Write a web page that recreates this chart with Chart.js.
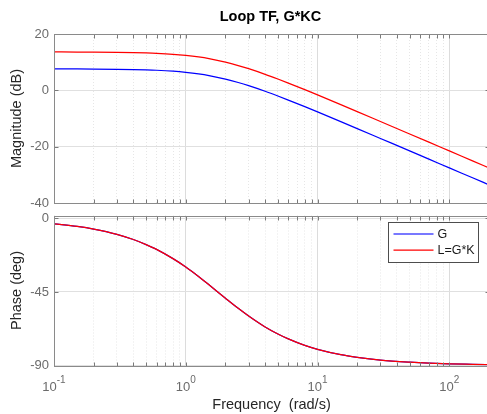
<!DOCTYPE html>
<html>
<head>
<meta charset="utf-8">
<script src="https://cdn.jsdelivr.net/npm/chart.js@4/dist/chart.umd.min.js"></script>
<style>
  html, body { margin: 0; padding: 0; background: #fff; overflow: hidden; width: 487px; height: 414px; }
  canvas { position: absolute; left: 0; }
  #mag { top: 0; }
  #phase { top: 205px; }
</style>
</head>
<body>
<canvas id="mag" width="492" height="212"></canvas>
<canvas id="phase" width="492" height="209"></canvas>
<script>
// frequencies (rad/s)
const freq = [0.1, 0.15, 0.2, 0.3, 0.4, 0.5, 0.6, 0.8, 1, 1.25, 1.5, 2, 2.5, 3, 4, 5, 6, 8, 10, 15, 20, 30, 50, 70, 100, 150, 200];
// magnitude (dB)
const magG = [7.6, 7.58, 7.55, 7.48, 7.39, 7.27, 7.13, 6.79, 6.38, 5.82, 5.22, 3.98, 2.78, 1.66, -0.33, -2.01, -3.45, -5.79, -7.66, -11.11, -13.58, -17.09, -21.51, -24.43, -27.53, -31.05, -33.55];
const magL = [13.62, 13.6, 13.57, 13.5, 13.41, 13.29, 13.15, 12.81, 12.4, 11.84, 11.24, 10.0, 8.8, 7.68, 5.69, 4.01, 2.57, 0.23, -1.64, -5.09, -7.56, -11.07, -15.49, -18.41, -21.51, -25.03, -27.53];
// phase (deg)
const phaseG = [-3.3, -4.9, -6.5, -9.7, -12.9, -16.0, -18.9, -24.6, -29.7, -35.5, -40.6, -48.8, -55.0, -59.7, -66.4, -70.7, -73.7, -77.7, -80.1, -83.4, -85.0, -86.7, -88.0, -88.6, -89.0, -89.3, -89.5];
const phaseL = [-3.3, -4.9, -6.5, -9.7, -12.9, -16.0, -18.9, -24.6, -29.7, -35.5, -40.6, -48.8, -55.0, -59.7, -66.4, -70.7, -73.7, -77.7, -80.1, -83.4, -85.0, -86.7, -88.0, -88.6, -89.0, -89.3, -89.5];

const magTicks = [-40, -20, 0, 20];
const phaseTicks = [-90, -45, 0];
const decades = [0.1, 1, 10, 100];
const decadeExp = ["-1", "0", "1", "2"];
const seriesNames = ["G", "L=G*K"];

const FONT = "'Liberation Sans', Arial, Helvetica, sans-serif";
const BLUE = "#0000ff";
const RED = "#ff0000";

// grid positions 1..9 x each decade
var gridFreqs = [];
decades.forEach(function (d) {
  for (var k = 1; k <= 9; k++) {
    if (k * d <= 200.0001) gridFreqs.push(k * d);
  }
});

function isDecade(v) {
  var l = Math.log10(v);
  return Math.abs(l - Math.round(l)) < 1e-9;
}

function pts(ys) {
  return freq.map(function (f, i) { return { x: f, y: ys[i] }; });
}

// order: higher gets drawn first (underneath)
function line(label, ys, color, order) {
  return {
    label: label,
    data: pts(ys),
    order: order,
    borderColor: color,
    backgroundColor: color,
    borderWidth: 1.25,
    pointRadius: 0,
    cubicInterpolationMode: "monotone",
    fill: false,
  };
}

const decor = {
  id: "decor",
  afterDraw: function (chart, args, opts) {
    var ctx = chart.ctx;
    var a = chart.chartArea;
    var xs = chart.scales.x, ys = chart.scales.y;
    var L = Math.round(a.left) + 0.5, R = Math.round(a.right) + 0.5;
    var T = Math.round(a.top) + 0.5, B = Math.round(a.bottom) + 0.5;
    ctx.save();

    // inward tick marks
    ctx.strokeStyle = "#7a7a7a";
    ctx.lineWidth = 1;
    ctx.beginPath();
    gridFreqs.forEach(function (v) {
      var px = Math.round(xs.getPixelForValue(v)) + 0.5;
      ctx.moveTo(px, B); ctx.lineTo(px, B - 4);
      ctx.moveTo(px, T); ctx.lineTo(px, T + 4);
    });
    opts.yTicks.forEach(function (v) {
      var py = Math.round(ys.getPixelForValue(v)) + 0.5;
      ctx.moveTo(L, py); ctx.lineTo(L + 4, py);
      ctx.moveTo(R, py); ctx.lineTo(R - 4, py);
    });
    ctx.stroke();

    // box
    ctx.strokeStyle = "#8a8a8a";
    ctx.strokeRect(L, T, R - L, B - T);

    // y axis label
    ctx.fillStyle = "#262626";
    ctx.font = "14.5px " + FONT;
    ctx.textAlign = "center";
    ctx.textBaseline = "middle";
    ctx.save();
    ctx.translate(17, (a.top + a.bottom) / 2);
    ctx.rotate(-Math.PI / 2);
    ctx.fillText(opts.ylabel, 0, 0);
    ctx.restore();

    if (opts.title) {
      ctx.fillStyle = "#000";
      ctx.font = "bold 14.5px " + FONT;
      ctx.fillText(opts.title, (a.left + a.right) / 2 - 1, 17);
    }

    if (opts.xlabels) {
      // 10^n tick labels
      ctx.fillStyle = "#6b6b6b";
      ctx.textAlign = "left";
      ctx.textBaseline = "alphabetic";
      decades.forEach(function (d, i) {
        ctx.font = "13px " + FONT;
        var w1 = ctx.measureText("10").width;
        ctx.font = "10px " + FONT;
        var w2 = ctx.measureText(decadeExp[i]).width;
        var x0 = xs.getPixelForValue(d) - (w1 + w2) / 2;
        ctx.font = "13px " + FONT;
        ctx.fillText("10", x0, a.bottom + 25.5);
        ctx.font = "10px " + FONT;
        ctx.fillText(decadeExp[i], x0 + w1, a.bottom + 17.5);
      });
      ctx.fillStyle = "#262626";
      ctx.font = "14.5px " + FONT;
      ctx.textAlign = "center";
      ctx.fillText("Frequency  (rad/s)", (a.left + a.right) / 2, a.bottom + 43);
    }

    if (opts.legend) {
      var bx = 388.5, by = 17.5, bw = 90, bh = 40;
      ctx.fillStyle = "#fff";
      ctx.fillRect(bx, by, bw, bh);
      ctx.strokeStyle = "#4d4d4d";
      ctx.strokeRect(bx, by, bw, bh);
      var rows = [
        { y: by + 11.5, color: "#7878ff", w: 2 },
        { y: by + 27.5, color: RED, w: 1.25 },
      ];
      ctx.font = "12.5px " + FONT;
      ctx.textAlign = "left";
      ctx.textBaseline = "middle";
      rows.forEach(function (r, i) {
        ctx.strokeStyle = r.color;
        ctx.lineWidth = r.w;
        ctx.beginPath();
        ctx.moveTo(bx + 5, r.y); ctx.lineTo(bx + 45, r.y);
        ctx.stroke();
        ctx.fillStyle = "#1a1a1a";
        ctx.fillText(seriesNames[i], bx + 49, r.y + 0.5);
      });
    }
    ctx.restore();
  },
};

function xScale(h) {
  return {
    type: "logarithmic",
    min: 0.1,
    max: 200,
    afterBuildTicks: function (s) { s.ticks = gridFreqs.map(function (v) { return { value: v }; }); },
    afterFit: function (s) { s.height = h; },
    ticks: { display: false },
    grid: {
      drawTicks: false,
      lineWidth: 1,
      color: function (c) { return c.tick && isDecade(c.tick.value) ? "#dcdcdc" : "#e6e6e6"; },
    },
    border: {
      display: false,
      dash: function (c) { return c.tick && !isDecade(c.tick.value) ? [1, 2] : []; },
    },
  };
}

function yScale(min, max, ticks) {
  return {
    min: min,
    max: max,
    afterBuildTicks: function (s) { s.ticks = ticks.map(function (v) { return { value: v }; }); },
    // fixed width, and let the end labels overhang the plot area
    afterFit: function (s) { s.width = 54; s.paddingTop = 0; s.paddingBottom = 0; },
    ticks: { color: "#6b6b6b", font: { family: FONT, size: 13 }, padding: 5 },
    grid: { drawTicks: false, color: "#e0e0e0" },
    border: { display: false },
  };
}

new Chart(document.getElementById("mag"), {
  type: "line",
  data: { datasets: [line("G", magG, BLUE, 1), line("L=G*K", magL, RED, 0)] },
  options: {
    responsive: false,
    animation: false,
    layout: { padding: { top: 34, bottom: 9, left: 0, right: 3 } },
    scales: { x: xScale(0), y: yScale(-40, 20, magTicks) },
    plugins: {
      legend: { display: false },
      tooltip: { enabled: false },
      decor: { title: "Loop TF, G*KC", ylabel: "Magnitude (dB)", yTicks: magTicks },
    },
  },
  plugins: [decor],
});

new Chart(document.getElementById("phase"), {
  type: "line",
  data: { datasets: [line("G", phaseG, BLUE, 1), line("L=G*K", phaseL, RED, 0)] },
  options: {
    responsive: false,
    animation: false,
    layout: { padding: { top: 10.5, bottom: 0, left: 0, right: 3 } },
    scales: { x: xScale(48.5), y: yScale(-90, 1.8, phaseTicks) },
    plugins: {
      legend: { display: false },
      tooltip: { enabled: false },
      decor: { ylabel: "Phase (deg)", yTicks: phaseTicks, xlabels: true, legend: true },
    },
  },
  plugins: [decor],
});
</script>
</body>
</html>
